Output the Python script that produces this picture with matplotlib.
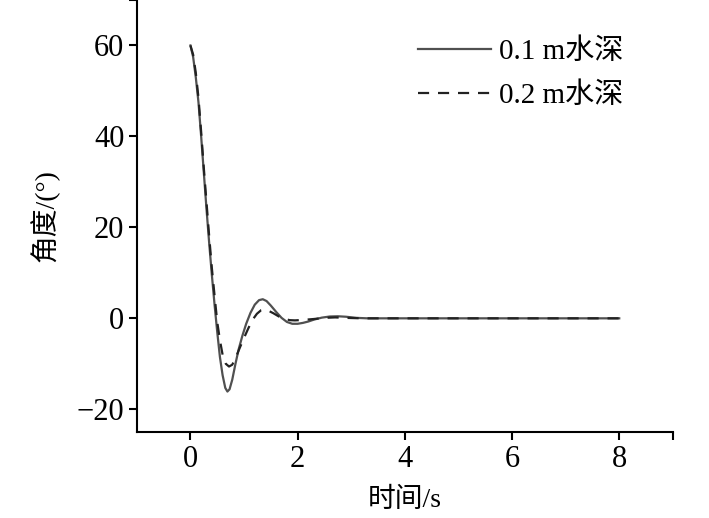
import matplotlib.pyplot as plt

plt.rcParams['font.family'] = ['Liberation Serif', 'Noto Sans CJK SC']
plt.rcParams['axes.unicode_minus'] = True

# 0.1 m water depth (solid)
t1 = [0.0, 0.05, 0.1, 0.15, 0.2, 0.25, 0.3, 0.35, 0.4, 0.45, 0.5, 0.55, 0.6,
      0.65, 0.69, 0.73, 0.78, 0.84, 0.9, 0.97, 1.04, 1.12, 1.2, 1.28, 1.35,
      1.42, 1.5, 1.6, 1.7, 1.8, 1.9, 2.0, 2.1, 2.2, 2.3, 2.45, 2.6, 2.75,
      2.9, 3.1, 3.3, 4.0, 5.0, 6.0, 7.0, 8.0]
y1 = [60.0, 57.5, 53.0, 47.5, 40.0, 32.0, 24.0, 16.5, 9.5, 3.0, -3.0, -8.5, -12.5,
      -15.3, -16.1, -15.6, -13.5, -10.0, -6.8, -3.8, -1.2, 1.2, 3.0, 4.0, 4.2,
      3.8, 2.8, 1.4, 0.1, -0.8, -1.2, -1.2, -1.0, -0.7, -0.3, 0.15, 0.4, 0.45,
      0.35, 0.1, 0.0, 0.0, 0.0, 0.0, 0.0, 0.0]

# 0.2 m water depth (dashed)
t2 = [0.0, 0.05, 0.1, 0.15, 0.2, 0.25, 0.3, 0.35, 0.4, 0.45, 0.5, 0.55, 0.6,
      0.66, 0.72, 0.78, 0.85, 0.92, 1.0, 1.08, 1.16, 1.24, 1.32, 1.38, 1.45,
      1.55, 1.65, 1.75, 1.85, 1.95, 2.1, 2.3, 2.5, 2.7, 2.9, 3.2, 4.0, 5.0,
      6.0, 7.0, 8.0]
y2 = [60.0, 58.0, 54.0, 48.5, 41.0, 33.0, 25.5, 18.0, 11.0, 5.0, -0.8, -4.8, -8.0,
      -10.0, -10.6, -10.2, -8.5, -6.5, -4.3, -2.2, -0.3, 1.0, 1.8, 1.95, 1.7,
      1.1, 0.4, -0.1, -0.4, -0.45, -0.35, -0.15, 0.1, 0.2, 0.1, 0.0, 0.0, 0.0,
      0.0, 0.0, 0.0]

labels = ['0.1 m水深', '0.2 m水深']
xticks = [0, 2, 4, 6, 8]
yticks = [-20, 0, 20, 40, 60]

fig = plt.figure(figsize=(7.09, 5.18), dpi=100)
ax = fig.add_axes([0.193, 0.166, 0.756, 0.834])

ax.plot(t1, y1, color='#505050', lw=1.6, label=labels[0])
ax.plot(t2, y2, color='#222222', lw=1.6, ls=(0, (5, 4)), label=labels[1])

ax.set_xlim(-1, 9)
ax.set_ylim(-25, 70)
ax.set_xticks(xticks + [9])
ax.set_xticklabels([str(v) for v in xticks] + [''])
ax.set_yticks(yticks + [70])
ax.set_yticklabels(['\u221220', '0', '20', '40', '60', ''])

for s in ['top', 'right']:
    ax.spines[s].set_visible(False)
for s in ['left', 'bottom']:
    ax.spines[s].set_linewidth(1.5)
ax.tick_params(direction='out', length=6, width=1.5, labelsize=22, pad=3)

ax.set_xlabel('时间/s', fontsize=20, labelpad=10)
ax.set_ylabel('角度/(°)', fontsize=20, labelpad=12)

ax.legend(loc='upper right', frameon=False, fontsize=21, handlelength=2.5,
          handletextpad=0.25, labelspacing=0.6, bbox_to_anchor=(0.956, 0.972))

plt.savefig('out.png', dpi=100)
